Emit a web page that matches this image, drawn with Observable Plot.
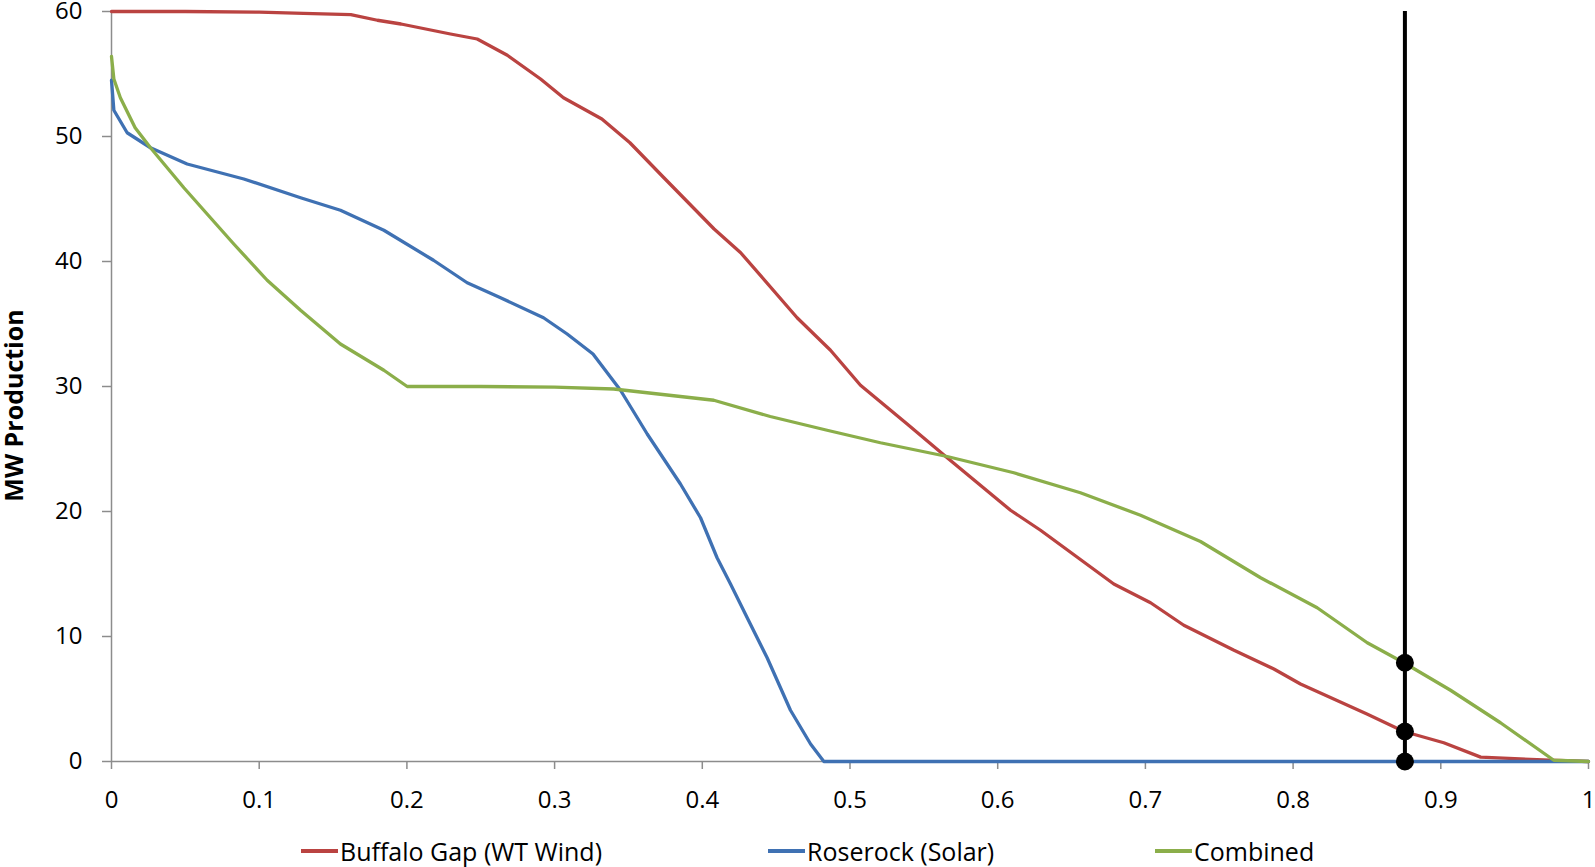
<!DOCTYPE html>
<html>
<head>
<meta charset="utf-8">
<script src="https://cdn.jsdelivr.net/npm/d3@7"></script>
<script src="https://cdn.jsdelivr.net/npm/@observablehq/plot@0.6"></script>
<style>
  html, body { margin: 0; padding: 0; background: #fff; }
  #wrap { position: relative; width: 1595px; height: 867px; font-family: "Open Sans", sans-serif; }
  #legend { position: relative; height: 37px; width: 1595px; font-size: 25px; color: #000; }
  .item { position: absolute; top: 0; height: 42px; display: flex; align-items: center; }
  .sw { width: 37px; height: 4px; margin-right: 2px; }
</style>
</head>
<body>
<div id="wrap">
  <div id="chart"></div>
  <div id="legend"></div>
</div>
<script>
// ---- data ----
const seriesNames = ["Buffalo Gap (WT Wind)", "Roserock (Solar)", "Combined"];
const seriesColors = ["#BA4341", "#3F71B3", "#8BAE4A"];

const windX = [0, 0.05, 0.1, 0.13, 0.162, 0.18, 0.196, 0.2295, 0.2476, 0.268, 0.2905, 0.306, 0.332, 0.351, 0.374, 0.408, 0.426, 0.4642, 0.4868, 0.5071, 0.5387, 0.5658, 0.6087, 0.629, 0.6786, 0.7035, 0.726, 0.76, 0.787, 0.805, 0.85, 0.875, 0.902, 0.927, 0.974, 1.0];
const windY = [60, 60, 59.95, 59.85, 59.75, 59.3, 59.0, 58.2, 57.8, 56.5, 54.6, 53.1, 51.4, 49.5, 46.7, 42.6, 40.7, 35.5, 32.9, 30.1, 27.0, 24.3, 20.1, 18.5, 14.2, 12.7, 10.9, 8.9, 7.4, 6.2, 3.8, 2.4, 1.5, 0.35, 0.1, 0];

const solarX = [0, 0.0016, 0.0106, 0.0264, 0.0512, 0.0896, 0.128, 0.155, 0.1844, 0.218, 0.2408, 0.2634, 0.2925, 0.3085, 0.326, 0.3446, 0.356, 0.3627, 0.3852, 0.3988, 0.41, 0.4191, 0.4304, 0.4439, 0.4597, 0.4733, 0.4823, 1.0];
const solarY = [54.5, 52.1, 50.3, 49.1, 47.8, 46.6, 45.1, 44.1, 42.5, 40.1, 38.3, 37.1, 35.5, 34.2, 32.6, 29.7, 27.5, 26.2, 22.2, 19.5, 16.3, 14.2, 11.5, 8.3, 4.1, 1.4, 0, 0];

const combX = [0, 0.0016, 0.006, 0.016, 0.0264, 0.049, 0.067, 0.0828, 0.1054, 0.128, 0.155, 0.1844, 0.2002, 0.25, 0.3, 0.34, 0.4078, 0.446, 0.4845, 0.5206, 0.5658, 0.6109, 0.656, 0.6967, 0.7373, 0.778, 0.8163, 0.8502, 0.875, 0.9066, 0.9404, 0.9765, 1.0];
const combY = [56.4, 54.6, 53.1, 50.7, 49.1, 45.9, 43.5, 41.4, 38.5, 36.1, 33.4, 31.3, 30.0, 30.0, 29.95, 29.8, 28.9, 27.6, 26.5, 25.5, 24.4, 23.1, 21.5, 19.7, 17.6, 14.7, 12.3, 9.5, 7.9, 5.7, 3.1, 0.1, 0];

const markerX = 0.8757;
const markerY = [7.9, 2.4, 0];

const xTicks = [0, 0.1, 0.2, 0.3, 0.4, 0.5, 0.6, 0.7, 0.8, 0.9, 1];
const xTickLabels = ["0", "0.1", "0.2", "0.3", "0.4", "0.5", "0.6", "0.7", "0.8", "0.9", "1"];
const yTicks = [0, 10, 20, 30, 40, 50, 60];
const yLabel = "MW Production";

// ---- build ----
const toRows = (xs, ys) => xs.map((x, i) => ({x, y: ys[i]}));
const wind = toRows(windX, windY);
const solar = toRows(solarX, solarY);
const comb = toRows(combX, combY);
const markers = markerY.map(y => ({x: markerX, y}));

const axisGrey = "#8c8c8c";

const chart = Plot.plot({
  width: 1595,
  height: 830,
  marginLeft: 111,
  marginRight: 7,
  marginTop: 11,
  marginBottom: 69,
  style: {fontFamily: "Open Sans, sans-serif", fontSize: "24px", color: "#000", background: "#fff", overflow: "visible"},
  x: {domain: [0, 1]},
  y: {domain: [0, 60]},
  marks: [
    Plot.ruleX([0], {y1: 0, y2: 60, stroke: axisGrey, strokeWidth: 1.5}),
    Plot.ruleY([0], {x1: 0, x2: 1, stroke: axisGrey, strokeWidth: 1.5}),
    Plot.axisX({ticks: xTicks, tickFormat: d => xTickLabels[xTicks.indexOf(d)], tickSize: 8, tickPadding: 21, stroke: axisGrey, strokeWidth: 1.5, label: null, fill: "#000"}),
    Plot.axisY({ticks: yTicks, tickFormat: d => String(d), tickSize: 9, tickPadding: 20, stroke: axisGrey, strokeWidth: 1.5, label: null, fill: "#000"}),
    Plot.text([yLabel], {frameAnchor: "left", textAnchor: "middle", lineAnchor: "middle", rotate: -90, dx: -97, dy: 19, fontWeight: "bold", fontSize: 25, fill: "#000"}),
    Plot.line(wind, {x: "x", y: "y", stroke: seriesColors[0], strokeWidth: 3.3}),
    Plot.line(solar, {x: "x", y: "y", stroke: seriesColors[1], strokeWidth: 3.3}),
    Plot.line(comb, {x: "x", y: "y", stroke: seriesColors[2], strokeWidth: 3.3}),
    Plot.ruleX([markerX], {y1: 0, y2: 60, stroke: "#000", strokeWidth: 4}),
    Plot.dot(markers, {x: "x", y: "y", r: 9, fill: "#000", stroke: "none"})
  ]
});
document.getElementById("chart").appendChild(chart);

// ---- legend ----
const legendLefts = [301, 768, 1155];
const legend = document.getElementById("legend");
seriesNames.forEach((name, i) => {
  const it = document.createElement("div");
  it.className = "item";
  it.style.left = legendLefts[i] + "px";
  const sw = document.createElement("div");
  sw.className = "sw";
  sw.style.background = seriesColors[i];
  const t = document.createElement("span");
  t.textContent = name;
  it.appendChild(sw);
  it.appendChild(t);
  legend.appendChild(it);
});
</script>
</body>
</html>
